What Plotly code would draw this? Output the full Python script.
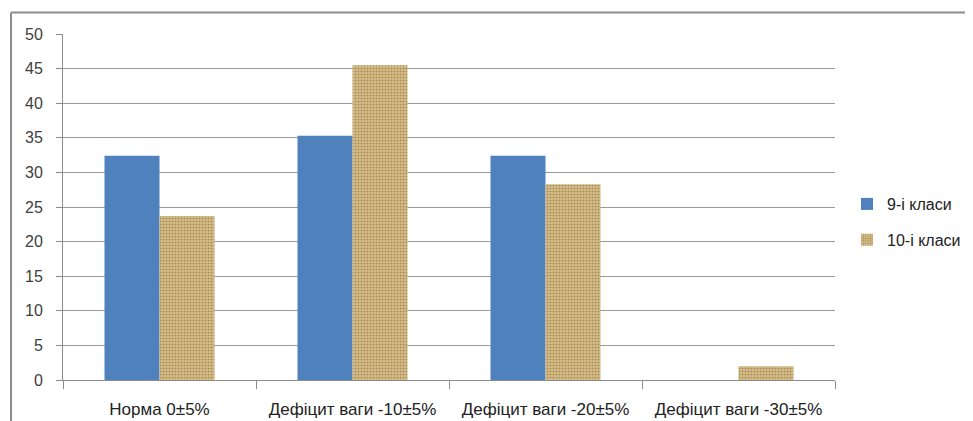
import plotly.graph_objects as go

categories = ["Норма 0±5%", "Дефіцит ваги -10±5%", "Дефіцит ваги -20±5%", "Дефіцит ваги -30±5%"]
grade9 = [32.4, 35.3, 32.4, 0]
grade10 = [23.7, 45.5, 28.3, 2.0]
series_names = ["9-і класи", "10-і класи"]
y_ticks = [0, 5, 10, 15, 20, 25, 30, 35, 40, 45, 50]

# page body has an 8px margin, so the figure starts at (8, 8) on screen
OFF = 8
W, H = 973 - OFF, 421 - OFF
PL, PT, PR, PB = 63, 34, 835, 380       # plot area on screen
pw, ph = PR - PL, PB - PT
L, T = PL - OFF, PT - OFF
R, B = W - L - pw, H - T - ph

fig = go.Figure()
fig.add_trace(go.Bar(
    x=categories, y=grade9, name=series_names[0], legendgroup="a",
    marker=dict(color="#4F81BD", line=dict(width=0)),
))
fig.add_trace(go.Bar(
    x=categories, y=grade10, name=series_names[1], legendgroup="b",
    marker=dict(color="#CDB27E", line=dict(width=0),
                pattern=dict(shape=".", fgcolor="#A08552", bgcolor="#D3B984",
                             size=3, solidity=0.25, fillmode="replace")),
))

# outer frame lines (paper coordinates, from screen pixels)
bx = (11 - PL) / pw
by = 1 + (PT - 12.5) / ph
fig.add_shape(type="line", xref="paper", yref="paper", x0=bx, x1=(972 - PL) / pw,
              y0=by, y1=by, line=dict(color="#8C8C8C", width=2))
fig.add_shape(type="line", xref="paper", yref="paper", x0=bx, x1=bx,
              y0=by, y1=-(430 - PB) / ph, line=dict(color="#8C8C8C", width=2))

fig.update_layout(
    width=W, height=H,
    margin=dict(l=L, r=R, t=T, b=B, autoexpand=False),
    paper_bgcolor="white", plot_bgcolor="white",
    barmode="group", bargap=0.43, bargroupgap=0,
    showlegend=True,
    legend=dict(x=(847 - PL) / pw, xanchor="left", y=(PB - 222) / ph, yanchor="middle",
                font=dict(family="Liberation Sans", size=16, color="#222222"),
                tracegroupgap=12, bgcolor="rgba(0,0,0,0)", itemwidth=30),
    xaxis=dict(
        tickfont=dict(family="Liberation Sans", size=17, color="#222222"),
        showline=True, linecolor="#8C8C8C", linewidth=1,
        tickson="boundaries", ticks="outside", ticklen=8, tickcolor="#8C8C8C",
        ticklabelstandoff=14,
        showgrid=False, fixedrange=True, automargin=False,
    ),
    yaxis=dict(
        range=[0, 50], tickvals=y_ticks,
        tickfont=dict(family="Liberation Sans", size=16, color="#404040"),
        showline=True, linecolor="#8C8C8C", linewidth=1,
        ticks="outside", ticklen=6, tickcolor="#8C8C8C",
        ticklabelstandoff=10,
        showgrid=True, gridcolor="#9A9A9A", gridwidth=1,
        zeroline=False, fixedrange=True, automargin=False,
    ),
)

fig.write_html("out.html")
